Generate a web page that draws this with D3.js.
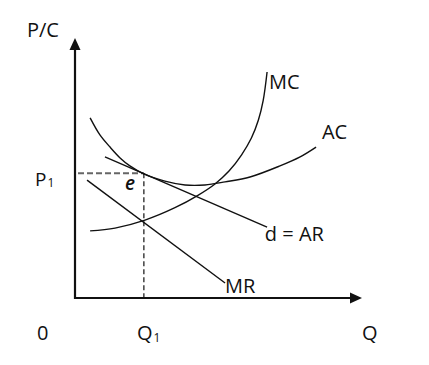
<!DOCTYPE html>
<html>
<head>
<meta charset="utf-8">
<script src="https://cdn.jsdelivr.net/npm/d3@7"></script>
<style>
  body { margin: 0; background: #fff; }
  text { font-family: "Open Sans", "Noto Sans", sans-serif; fill: #111; }
</style>
</head>
<body>
<div class="graph"><svg id="chart" width="429" height="365"></svg></div>
<script>
  // curves in (Q, P) units
  const mcCurve = [[0.54, 2.60], [1.43, 2.71], [2.50, 3.02], [3.57, 3.50], [4.39, 3.98],
    [5.00, 4.42], [5.50, 4.92], [5.95, 5.55], [6.30, 6.20], [6.55, 6.90],
    [6.72, 7.65], [6.86, 8.76]]
  const acCurve = [[0.54, 6.98], [0.89, 6.32], [1.25, 5.85], [1.61, 5.43], [1.96, 5.12],
    [2.46, 4.81], [3.21, 4.53], [3.93, 4.38], [4.64, 4.38], [5.36, 4.50],
    [6.25, 4.69], [7.32, 5.12], [8.04, 5.47], [8.61, 5.85]]
  const demandLine = [[1.07, 5.47], [6.86, 2.75]]
  const mrLine = [[0.43, 4.57], [5.36, 0.58]]
  const equilibrium = { q: 2.46, p: 4.84 }

  const curveLabels = [
    { text: 'MC', q: 6.93, p: 8.1 },
    { text: 'AC', q: 8.82, p: 6.15 },
    { text: 'd = AR', q: 6.78, p: 2.21 },
    { text: 'MR', q: 5.36, p: 0.2 }
  ]

  const svg = d3.select('#chart')
  const x = d3.scaleLinear().domain([0, 10]).range([75, 355])
  const y = d3.scaleLinear().domain([0, 10]).range([298, 40])

  const line = d3.line()
    .x(d => x(d[0]))
    .y(d => y(d[1]))

  const g = svg.append('g')

  // dashed guides to e
  g.append('line')
    .attr('x1', x(0) + 3).attr('x2', x(equilibrium.q))
    .attr('y1', y(equilibrium.p)).attr('y2', y(equilibrium.p))
    .attr('stroke', '#666')
    .attr('stroke-width', 2)
    .attr('stroke-dasharray', '6,3')

  g.append('line')
    .attr('x1', x(equilibrium.q)).attr('x2', x(equilibrium.q))
    .attr('y1', y(equilibrium.p)).attr('y2', y(0))
    .attr('stroke', '#111')
    .attr('stroke-width', 1.2)
    .attr('stroke-dasharray', '5,3')

  const curves = [
    { data: mcCurve, smooth: true },
    { data: acCurve, smooth: true },
    { data: demandLine, smooth: false },
    { data: mrLine, smooth: false }
  ]

  curves.forEach(c => {
    g.append('path')
      .datum(c.data)
      .attr('d', line.curve(c.smooth ? d3.curveCatmullRom.alpha(0.5) : d3.curveLinear))
      .attr('fill', 'none')
      .attr('stroke', '#111')
      .attr('stroke-width', 1.4)
  })

  // axes with arrow heads
  g.append('line')
    .attr('x1', x(0)).attr('x2', x(0))
    .attr('y1', y(0) + 1).attr('y2', y(10) + 4)
    .attr('stroke', '#111')
    .attr('stroke-width', 2.2)
  g.append('path')
    .attr('d', `M${x(0) - 5.5},${y(10) + 10} L${x(0)},${y(10) - 2} L${x(0) + 5.5},${y(10) + 10} Z`)
    .attr('fill', '#111')

  g.append('line')
    .attr('x1', x(0) - 1).attr('x2', x(10) + 2)
    .attr('y1', y(0)).attr('y2', y(0))
    .attr('stroke', '#111')
    .attr('stroke-width', 2.2)
  g.append('path')
    .attr('d', `M${x(10) - 5},${y(0) - 5.5} L${x(10) + 7},${y(0)} L${x(10) - 5},${y(0) + 5.5} Z`)
    .attr('fill', '#111')

  // curve labels
  curveLabels.forEach(l => {
    g.append('text')
      .attr('x', x(l.q))
      .attr('y', y(l.p))
      .attr('font-size', '20px')
      .text(l.text)
  })

  // equilibrium label
  g.append('text')
    .attr('x', x(equilibrium.q) - 19)
    .attr('y', y(equilibrium.p) + 17)
    .attr('font-size', '19px')
    .attr('font-style', 'italic')
    .attr('font-weight', 600)
    .text('e')

  // axis titles and tick labels
  g.append('text')
    .attr('x', 27).attr('y', 37)
    .attr('font-size', '20px')
    .text('P/C')

  const p1 = g.append('text')
    .attr('x', 35).attr('y', y(equilibrium.p) + 13)
    .attr('font-size', '19px')
  p1.append('tspan').text('P')
  p1.append('tspan').attr('font-size', '12px').attr('dx', 1).attr('dy', 1).text('1')

  g.append('text')
    .attr('x', 37).attr('y', 340)
    .attr('font-size', '20px')
    .text('0')

  const q1 = g.append('text')
    .attr('x', x(equilibrium.q) - 7).attr('y', 340)
    .attr('font-size', '20px')
  q1.append('tspan').text('Q')
  q1.append('tspan').attr('font-size', '12px').attr('dx', 1).attr('dy', 2).text('1')

  g.append('text')
    .attr('x', 362).attr('y', 340)
    .attr('font-size', '20px')
    .text('Q')
</script>
</body>
</html>
